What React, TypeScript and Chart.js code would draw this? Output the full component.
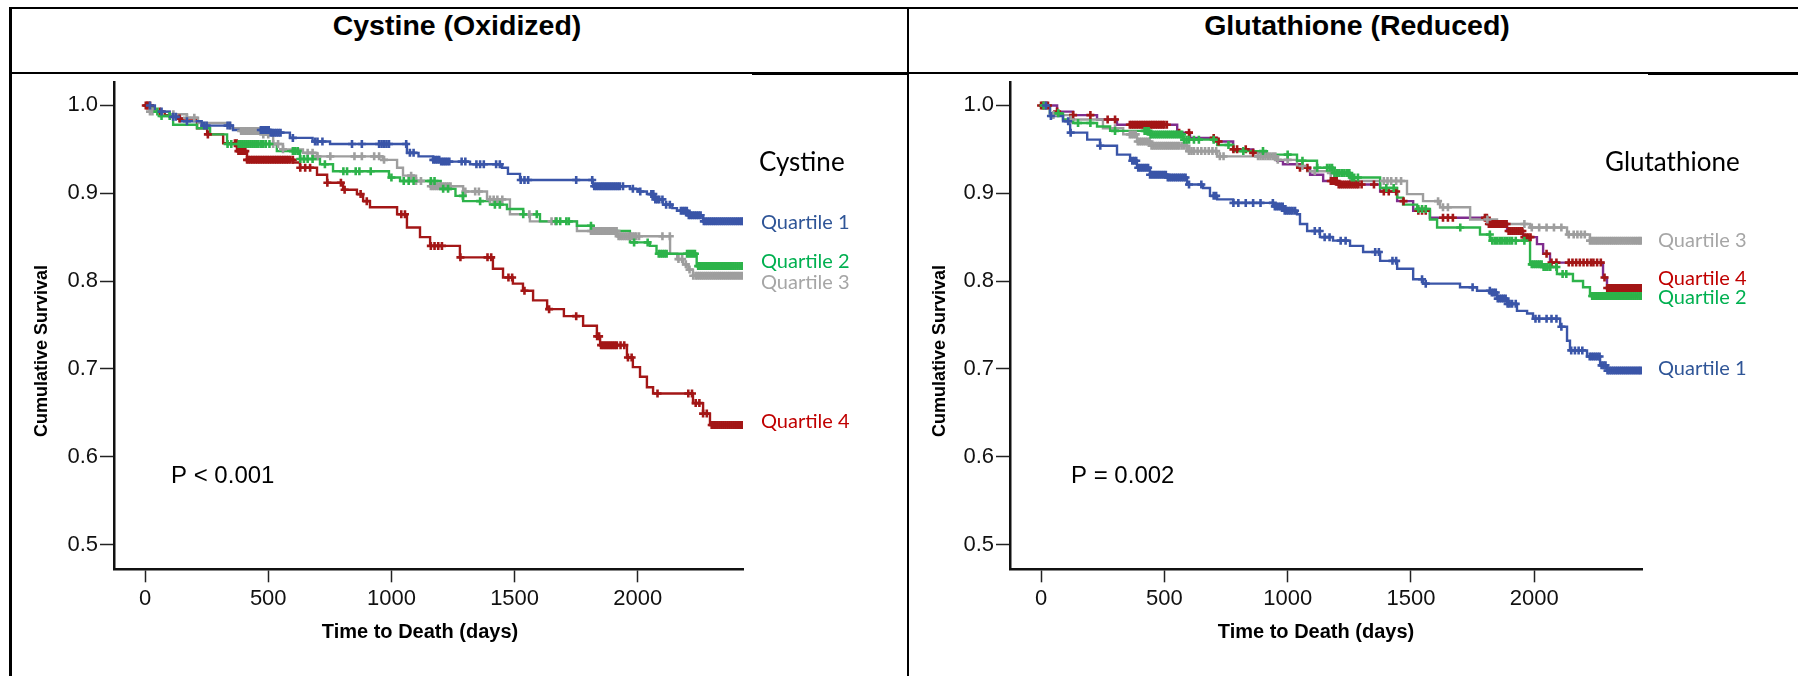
import React, { useEffect, useRef } from "react";
import { Chart, registerables } from "chart.js";

Chart.register(...registerables);

// ---------- axis ticks / labels ----------
const xTickValues = [0, 500, 1000, 1500, 2000];
const yTickValues = [0.5, 0.6, 0.7, 0.8, 0.9, 1.0];
const quartileNames = ["Quartile 1", "Quartile 2", "Quartile 3", "Quartile 4"];
const panelTitles = ["Cystine (Oxidized)", "Glutathione (Reduced)"];
const groupNames = ["Cystine", "Glutathione"];
const pValues = ["P < 0.001", "P = 0.002"];
const xAxisTitle = "Time to Death (days)";
const yAxisTitle = "Cumulative Survival";

// ---------- Cystine (Oxidized) ----------
const cysQ1Times = [0, 40, 100, 142, 230, 357, 507, 588, 680, 751, 1063, 1110, 1169, 1200, 1319, 1449, 1473, 1522, 1818, 1968, 2000, 2037, 2070, 2102, 2140, 2159, 2200, 2265];
const cysQ1Surv = [1, 0.993, 0.987, 0.982, 0.977, 0.972, 0.969, 0.963, 0.959, 0.956, 0.946, 0.942, 0.938, 0.936, 0.933, 0.929, 0.922, 0.915, 0.908, 0.905, 0.902, 0.899, 0.893, 0.887, 0.883, 0.88, 0.875, 0.868];
const cysQ1Censor = [20, 67, 114, 125, 170, 240, 250, 335, 345, 470, 478, 486, 494, 502, 510, 518, 526, 534, 542, 550, 600, 690, 700, 720, 840, 880, 950, 960, 970, 980, 990, 1060, 1075, 1090, 1170, 1178, 1186, 1194, 1202, 1210, 1218, 1226, 1235, 1285, 1300, 1345, 1360, 1375, 1425, 1440, 1525, 1540, 1555, 1750, 1815, 1823, 1831, 1839, 1847, 1855, 1863, 1871, 1879, 1887, 1895, 1903, 1911, 1919, 1927, 1940, 1980, 2010, 2055, 2063, 2071, 2079, 2087, 2100, 2115, 2130, 2175, 2183, 2191, 2199, 2207, 2215, 2223, 2231, 2239, 2247, 2255, 2268, 2276, 2284, 2292, 2300, 2308, 2316, 2324, 2332, 2340, 2348, 2356, 2364, 2372, 2380, 2388, 2396, 2404, 2412, 2420, 2427];

const cysQ2Times = [0, 30, 61, 114, 211, 264, 333, 535, 629, 710, 763, 990, 1035, 1200, 1260, 1291, 1400, 1469, 1535, 1603, 1753, 1818, 1968, 2049, 2076, 2239];
const cysQ2Surv = [1, 0.993, 0.988, 0.978, 0.974, 0.967, 0.956, 0.948, 0.939, 0.933, 0.925, 0.918, 0.914, 0.905, 0.897, 0.891, 0.887, 0.882, 0.876, 0.868, 0.863, 0.857, 0.844, 0.84, 0.831, 0.817];
const cysQ2Censor = [50, 67, 100, 335, 350, 380, 388, 396, 404, 412, 420, 428, 436, 444, 452, 460, 470, 480, 490, 505, 600, 610, 620, 630, 645, 660, 680, 730, 805, 820, 855, 870, 916, 1000, 1050, 1070, 1090, 1160, 1175, 1210, 1230, 1290, 1360, 1420, 1440, 1535, 1590, 1670, 1685, 1710, 1720, 1810, 1985, 2040, 2085, 2093, 2101, 2109, 2117, 2200, 2208, 2216, 2224, 2232, 2245, 2253, 2261, 2269, 2277, 2285, 2293, 2301, 2309, 2317, 2325, 2333, 2341, 2349, 2357, 2365, 2373, 2381, 2389, 2397, 2405, 2413, 2421, 2427];

const cysQ3Times = [0, 20, 100, 170, 215, 345, 386, 479, 520, 560, 641, 698, 966, 1023, 1047, 1100, 1157, 1291, 1388, 1481, 1562, 1753, 1916, 2131, 2160, 2184, 2205, 2224];
const cysQ3Surv = [1, 0.993, 0.99, 0.986, 0.98, 0.974, 0.971, 0.967, 0.956, 0.95, 0.946, 0.942, 0.938, 0.929, 0.92, 0.914, 0.908, 0.902, 0.893, 0.876, 0.868, 0.857, 0.851, 0.831, 0.825, 0.819, 0.813, 0.806];
const cysQ3Censor = [20, 30, 115, 170, 200, 390, 398, 406, 414, 422, 430, 438, 446, 454, 462, 470, 480, 500, 520, 540, 560, 660, 680, 700, 752, 850, 880, 930, 950, 970, 1080, 1100, 1120, 1160, 1168, 1176, 1184, 1192, 1200, 1208, 1216, 1224, 1232, 1240, 1300, 1340, 1355, 1400, 1415, 1430, 1450, 1560, 1650, 1665, 1810, 1818, 1826, 1834, 1842, 1850, 1858, 1866, 1874, 1882, 1890, 1898, 1906, 1914, 1922, 1930, 1938, 1946, 1954, 1962, 1970, 1978, 1986, 1994, 2005, 2100, 2130, 2165, 2180, 2195, 2210, 2225, 2235, 2243, 2251, 2259, 2267, 2275, 2283, 2291, 2299, 2307, 2315, 2323, 2331, 2339, 2347, 2355, 2363, 2371, 2379, 2387, 2395, 2403, 2411, 2419, 2427];

const cysQ4Times = [0, 32, 80, 130, 211, 252, 317, 373, 414, 601, 629, 698, 739, 804, 860, 885, 913, 1023, 1063, 1116, 1157, 1278, 1412, 1453, 1493, 1534, 1575, 1632, 1700, 1778, 1834, 1847, 1956, 1980, 2009, 2037, 2062, 2224, 2265, 2293];
const cysQ4Surv = [1, 0.993, 0.989, 0.985, 0.974, 0.967, 0.957, 0.948, 0.938, 0.935, 0.929, 0.921, 0.912, 0.904, 0.899, 0.891, 0.884, 0.876, 0.861, 0.85, 0.84, 0.827, 0.814, 0.804, 0.797, 0.789, 0.778, 0.768, 0.76, 0.749, 0.737, 0.727, 0.713, 0.702, 0.691, 0.679, 0.672, 0.661, 0.649, 0.636];
const cysQ4Censor = [3, 8, 13, 20, 60, 140, 255, 365, 372, 379, 386, 393, 400, 407, 414, 421, 428, 435, 442, 449, 456, 463, 470, 477, 484, 491, 498, 505, 512, 519, 526, 533, 540, 547, 554, 561, 568, 575, 582, 590, 600, 630, 650, 670, 740, 795, 810, 875, 900, 1040, 1055, 1160, 1175, 1190, 1205, 1280, 1390, 1405, 1475, 1490, 1540, 1640, 1750, 1835, 1843, 1851, 1859, 1867, 1875, 1883, 1891, 1899, 1907, 1915, 1930, 1945, 1960, 1975, 2080, 2205, 2220, 2235, 2250, 2265, 2280, 2300, 2308, 2316, 2324, 2332, 2340, 2348, 2356, 2364, 2372, 2380, 2388, 2396, 2404, 2412, 2420, 2427];

// ---------- Glutathione (Reduced) ----------
const gluQ1Times = [0, 36, 89, 118, 187, 239, 308, 361, 389, 442, 511, 592, 657, 685, 714, 779, 941, 981, 1038, 1050, 1079, 1131, 1184, 1253, 1306, 1375, 1444, 1509, 1549, 1699, 1768, 1821, 1849, 1890, 1930, 1971, 1995, 2105, 2133, 2145, 2214, 2267, 2295];
const gluQ1Surv = [1, 0.988, 0.982, 0.969, 0.961, 0.954, 0.944, 0.937, 0.929, 0.921, 0.918, 0.91, 0.906, 0.897, 0.893, 0.889, 0.885, 0.88, 0.876, 0.865, 0.857, 0.85, 0.846, 0.84, 0.833, 0.823, 0.814, 0.802, 0.797, 0.793, 0.789, 0.787, 0.78, 0.774, 0.766, 0.763, 0.757, 0.748, 0.732, 0.721, 0.714, 0.704, 0.698];
const gluQ1Censor = [20, 40, 110, 120, 240, 370, 378, 386, 394, 402, 410, 418, 426, 434, 442, 450, 458, 466, 474, 482, 490, 498, 506, 514, 522, 530, 538, 546, 554, 562, 570, 578, 586, 600, 650, 700, 710, 780, 800, 830, 860, 890, 940, 948, 956, 964, 972, 980, 988, 996, 1004, 1012, 1020, 1030, 1110, 1130, 1150, 1170, 1215, 1235, 1355, 1370, 1425, 1440, 1545, 1560, 1750, 1820, 1828, 1836, 1844, 1852, 1860, 1868, 1876, 1884, 1892, 1900, 1910, 1925, 2005, 2020, 2050, 2070, 2090, 2110, 2150, 2165, 2180, 2195, 2225, 2233, 2241, 2249, 2257, 2265, 2273, 2281, 2289, 2297, 2305, 2313, 2321, 2329, 2337, 2345, 2353, 2361, 2369, 2377, 2385, 2393, 2401, 2409, 2417, 2425, 2432];

const gluQ2Times = [0, 36, 89, 130, 227, 280, 442, 576, 714, 779, 916, 1038, 1119, 1184, 1253, 1375, 1444, 1468, 1525, 1577, 1606, 1780, 1821, 1983, 2036, 2092, 2157, 2198, 2226];
const gluQ2Surv = [1, 0.991, 0.984, 0.98, 0.976, 0.971, 0.967, 0.961, 0.955, 0.948, 0.944, 0.937, 0.929, 0.923, 0.918, 0.906, 0.895, 0.887, 0.882, 0.87, 0.861, 0.853, 0.846, 0.819, 0.816, 0.808, 0.8, 0.793, 0.783];
const gluQ2Censor = [10, 70, 150, 200, 300, 420, 428, 436, 444, 452, 460, 468, 476, 484, 492, 500, 508, 516, 524, 532, 540, 548, 556, 564, 572, 580, 590, 600, 620, 640, 700, 760, 820, 900, 1000, 1060, 1120, 1160, 1170, 1180, 1190, 1200, 1210, 1220, 1230, 1240, 1250, 1260, 1270, 1285, 1400, 1430, 1530, 1545, 1560, 1700, 1820, 1830, 1840, 1850, 1860, 1870, 1880, 1890, 1900, 1910, 1925, 1960, 1990, 1998, 2006, 2014, 2022, 2030, 2038, 2046, 2054, 2065, 2090, 2115, 2130, 2235, 2243, 2251, 2259, 2267, 2275, 2283, 2291, 2299, 2307, 2315, 2323, 2331, 2339, 2347, 2355, 2363, 2371, 2379, 2387, 2395, 2403, 2411, 2419, 2427, 2432];

const gluQ3Times = [0, 36, 118, 251, 333, 389, 442, 592, 714, 957, 1038, 1079, 1172, 1253, 1484, 1549, 1618, 1740, 1849, 1983, 2133, 2226];
const gluQ3Surv = [1, 0.989, 0.984, 0.974, 0.967, 0.959, 0.954, 0.948, 0.942, 0.938, 0.931, 0.925, 0.923, 0.914, 0.899, 0.891, 0.884, 0.87, 0.865, 0.861, 0.853, 0.846];
const gluQ3Censor = [15, 50, 120, 300, 360, 368, 376, 384, 392, 400, 408, 416, 424, 432, 440, 448, 456, 464, 472, 480, 488, 496, 504, 512, 520, 528, 536, 544, 552, 560, 570, 580, 590, 600, 610, 620, 635, 650, 665, 680, 695, 710, 725, 740, 880, 890, 900, 910, 920, 930, 940, 950, 960, 1000, 1060, 1110, 1175, 1190, 1205, 1390, 1405, 1420, 1440, 1460, 1610, 1630, 1650, 1810, 1960, 1990, 2020, 2050, 2080, 2110, 2140, 2160, 2175, 2190, 2205, 2226, 2234, 2242, 2250, 2258, 2266, 2274, 2282, 2290, 2298, 2306, 2314, 2322, 2330, 2338, 2346, 2354, 2362, 2370, 2378, 2386, 2394, 2402, 2410, 2418, 2426, 2432];

const gluQ4Times = [0, 65, 130, 227, 308, 552, 604, 714, 779, 860, 916, 957, 981, 1050, 1091, 1144, 1200, 1375, 1444, 1509, 1577, 1809, 1890, 1955, 2011, 2036, 2064, 2279, 2295];
const gluQ4Surv = [1, 0.993, 0.989, 0.984, 0.978, 0.969, 0.963, 0.959, 0.95, 0.946, 0.942, 0.937, 0.933, 0.929, 0.921, 0.914, 0.91, 0.902, 0.891, 0.88, 0.872, 0.865, 0.857, 0.85, 0.842, 0.831, 0.821, 0.804, 0.792];
const gluQ4Censor = [0, 7, 14, 21, 28, 65, 130, 200, 270, 300, 360, 367, 374, 381, 388, 395, 402, 409, 416, 423, 430, 437, 444, 451, 458, 465, 472, 479, 486, 493, 500, 510, 560, 600, 700, 720, 780, 795, 830, 860, 1050, 1080, 1175, 1183, 1191, 1199, 1207, 1215, 1223, 1231, 1239, 1247, 1255, 1263, 1271, 1279, 1287, 1300, 1350, 1390, 1410, 1440, 1470, 1530, 1545, 1560, 1630, 1650, 1670, 1800, 1808, 1816, 1824, 1832, 1840, 1848, 1856, 1864, 1872, 1880, 1888, 1896, 1904, 1912, 1920, 1928, 1936, 1944, 1952, 1960, 1968, 1976, 1985, 2050, 2070, 2090, 2140, 2155, 2170, 2185, 2200, 2215, 2230, 2240, 2255, 2270, 2285, 2296, 2304, 2312, 2320, 2328, 2336, 2344, 2352, 2360, 2368, 2376, 2384, 2392, 2400, 2408, 2416, 2424, 2432];

// ---------- styling ----------
const BLUE = "#3a55a8";
const GREEN = "#2db34a";
const GRAY = "#9e9e9e";
const RED = "#a31616";
const PURPLE = "#7f2c8e";
const LABEL_COLORS = ["#2f5597", "#00b050", "#a6a6a6", "#c00000"];
const ARIAL = "'Liberation Sans', Arial, Helvetica, sans-serif";
const CALIBRI = "Lato, 'Open Sans', sans-serif";

type Series = { times: number[]; surv: number[]; censor: number[]; line: string; mark: string };

function survivalAt(times: number[], surv: number[], t: number) {
  let v = surv[0];
  for (let i = 0; i < times.length; i++) if (times[i] <= t) v = surv[i];
  return v;
}

const textPlugin = {
  id: "panelTexts",
  afterDraw(chart: any, _args: any, opts: any) {
    const ctx = chart.ctx;
    for (const t of opts.items || []) {
      ctx.save();
      ctx.font = t.font;
      ctx.fillStyle = t.color;
      ctx.textAlign = t.align || "left";
      ctx.textBaseline = "middle";
      ctx.translate(t.x, t.y);
      if (t.rotate) ctx.rotate(t.rotate);
      ctx.fillText(t.text, 0, 0);
      ctx.restore();
    }
  },
};

type PanelProps = {
  left: number;
  top: number;
  width: number;
  height: number;
  area: { left: number; top: number; right: number; bottom: number };
  xMin: number;
  xMax: number;
  series: Series[];
  texts: any[];
};

function Panel(p: PanelProps) {
  const ref = useRef<HTMLCanvasElement | null>(null);
  useEffect(() => {
    if (!ref.current) return;
    const lines = p.series.map((s) => {
      const pts = s.times.map((t, i) => ({ x: t, y: s.surv[i] }));
      const endT = Math.max(s.censor[s.censor.length - 1], s.times[s.times.length - 1]);
      pts.push({ x: endT, y: s.surv[s.surv.length - 1] });
      return {
        type: "line" as const,
        data: pts,
        borderColor: s.line,
        borderWidth: 2.4,
        stepped: "before" as const,
        pointRadius: 0,
        fill: false,
        tension: 0,
      };
    });
    const marks = p.series.map((s) => ({
      type: "scatter" as const,
      data: s.censor.map((t) => ({ x: t, y: survivalAt(s.times, s.surv, t) })),
      pointStyle: "cross" as const,
      pointRadius: 4,
      pointBorderWidth: 2.6,
      borderColor: s.mark,
      backgroundColor: s.mark,
      showLine: false,
    }));
    const chart = new Chart(ref.current, {
      type: "line",
      data: { datasets: [...marks, ...lines] as any },
      options: {
        responsive: false,
        animation: false,
        devicePixelRatio: 1,
        layout: {
          padding: { left: 0, top: p.area.top, right: p.width - p.area.right, bottom: 0 },
        },
        plugins: {
          legend: { display: false },
          tooltip: { enabled: false },
          panelTexts: { items: p.texts },
        } as any,
        scales: {
          x: {
            type: "linear",
            min: p.xMin,
            max: p.xMax,
            afterBuildTicks: (s: any) => {
              s.ticks = xTickValues.map((v) => ({ value: v }));
            },
            afterFit: (s: any) => {
              s.height = p.height - p.area.bottom;
              s.paddingLeft = 0;
              s.paddingRight = 0;
            },
            ticks: {
              autoSkip: false,
              maxRotation: 0,
              padding: 3,
              color: "#111",
              font: { family: ARIAL, size: 22 },
              callback: (v: any) => String(v),
            },
            grid: {
              display: true,
              drawOnChartArea: false,
              drawTicks: true,
              tickLength: 13,
              tickWidth: 1.5,
              tickColor: "#222",
            },
            border: { display: true, color: "#111", width: 2.5 },
          },
          y: {
            type: "linear",
            min: 0.4717,
            max: 1.026,
            afterBuildTicks: (s: any) => {
              s.ticks = yTickValues.map((v) => ({ value: v }));
            },
            afterFit: (s: any) => {
              s.width = p.area.left;
              s.paddingTop = 0;
              s.paddingBottom = 0;
            },
            ticks: {
              autoSkip: false,
              padding: 2,
              color: "#111",
              font: { family: ARIAL, size: 22 },
              callback: (v: any) => Number(v).toFixed(1),
            },
            grid: {
              display: true,
              drawOnChartArea: false,
              drawTicks: true,
              tickLength: 14,
              tickWidth: 1.5,
              tickColor: "#222",
            },
            border: { display: true, color: "#111", width: 2.5 },
          },
        },
      },
      plugins: [textPlugin as any],
    });
    return () => chart.destroy();
  }, []);
  return (
    <canvas
      ref={ref}
      width={p.width}
      height={p.height}
      style={{ position: "absolute", left: p.left, top: p.top, width: p.width, height: p.height }}
    />
  );
}

function axisTexts(pText: string, group: string, groupX: number, labelX: number, labelYs: number[], xTitleX: number, pX: number) {
  const items: any[] = [
    { text: yAxisTitle, x: 31, y: 275, font: `bold 18px ${ARIAL}`, color: "#000", align: "center", rotate: -Math.PI / 2 },
    { text: xAxisTitle, x: xTitleX, y: 556, font: `bold 20px ${ARIAL}`, color: "#000", align: "center" },
    { text: pText, x: pX, y: 400, font: `24px ${ARIAL}`, color: "#000", align: "left" },
    { text: group, x: groupX, y: 87, font: `26px ${CALIBRI}`, color: "#000", align: "left" },
  ];
  quartileNames.forEach((q, i) => {
    items.push({ text: q, x: labelX, y: labelYs[i], font: `20px ${CALIBRI}`, color: LABEL_COLORS[i], align: "left" });
  });
  return items;
}

export default function App() {
  const cysSeries: Series[] = [
    { times: cysQ1Times, surv: cysQ1Surv, censor: cysQ1Censor, line: BLUE, mark: BLUE },
    { times: cysQ2Times, surv: cysQ2Surv, censor: cysQ2Censor, line: GREEN, mark: GREEN },
    { times: cysQ3Times, surv: cysQ3Surv, censor: cysQ3Censor, line: GRAY, mark: GRAY },
    { times: cysQ4Times, surv: cysQ4Surv, censor: cysQ4Censor, line: RED, mark: RED },
  ];
  const gluSeries: Series[] = [
    { times: gluQ1Times, surv: gluQ1Surv, censor: gluQ1Censor, line: BLUE, mark: BLUE },
    { times: gluQ2Times, surv: gluQ2Surv, censor: gluQ2Censor, line: GREEN, mark: GREEN },
    { times: gluQ3Times, surv: gluQ3Surv, censor: gluQ3Censor, line: GRAY, mark: GRAY },
    { times: gluQ4Times, surv: gluQ4Surv, censor: gluQ4Censor, line: PURPLE, mark: RED },
  ];
  const line = (l: number, t: number, w: number, h: number) => (
    <div style={{ position: "absolute", left: l, top: t, width: w, height: h, background: "#000" }} />
  );
  const titleStyle = (cx: number): React.CSSProperties => ({
    position: "absolute",
    left: cx - 300,
    top: 5,
    width: 600,
    height: 40,
    lineHeight: "40px",
    textAlign: "center",
    fontFamily: ARIAL,
    fontWeight: "bold",
    fontSize: 28.5,
    color: "#000",
  });
  return (
    <div style={{ position: "absolute", left: 0, top: 0, width: 1798, height: 676, background: "#fff", overflow: "hidden" }}>
      {line(9, 7, 1789, 2)}
      {line(9, 7, 3, 669)}
      {line(907, 7, 2, 669)}
      {line(9, 72, 1789, 2)}
      {line(752, 72, 155, 3)}
      {line(1648, 72, 150, 3)}
      <div style={titleStyle(457)}>{panelTitles[0]}</div>
      <div style={titleStyle(1357)}>{panelTitles[1]}</div>
      <Panel
        left={11}
        top={76}
        width={896}
        height={600}
        area={{ left: 103, top: 4.7, right: 732, bottom: 493.3 }}
        xMin={-126}
        xMax={2427}
        series={cysSeries}
        texts={axisTexts(pValues[0], groupNames[0], 748, 750, [147, 186, 207, 346], 409, 160)}
      />
      <Panel
        left={909}
        top={76}
        width={889}
        height={600}
        area={{ left: 101, top: 4.7, right: 733, bottom: 493.3 }}
        xMin={-126}
        xMax={2437}
        series={gluSeries}
        texts={axisTexts(pValues[1], groupNames[1], 696, 749, [293, 222, 165, 203], 407, 162)}
      />
    </div>
  );
}
